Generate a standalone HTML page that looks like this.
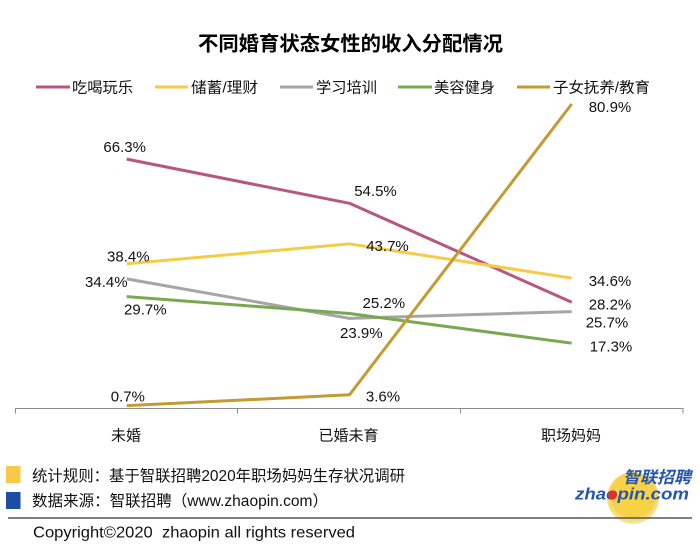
<!DOCTYPE html>
<html>
<head>
<meta charset="utf-8">
<style>
  html,body{margin:0;padding:0;background:#fff;}
  body{width:700px;height:551px;overflow:hidden;}
  svg{display:block;}
  .cjk{font-family:"Liberation Sans","Noto Sans CJK SC",sans-serif;}
  .num{font-family:"Liberation Sans",sans-serif;font-size:15px;fill:#111;}
</style>
</head>
<body>
<svg width="700" height="551" viewBox="0 0 700 551" xmlns="http://www.w3.org/2000/svg">
  <rect width="700" height="551" fill="#fff"/>

  <!-- Title -->
  <text class="cjk" x="198" y="50.3" font-size="20" font-weight="bold" fill="#000" textLength="305" lengthAdjust="spacingAndGlyphs">不同婚育状态女性的收入分配情况</text>

  <!-- Legend -->
  <g stroke-width="3" stroke-linecap="butt">
    <line x1="36" y1="87" x2="70" y2="87" stroke="#b7577f"/>
    <line x1="155" y1="87" x2="188" y2="87" stroke="#f4cc46"/>
    <line x1="280" y1="87" x2="313" y2="87" stroke="#a6a6a6"/>
    <line x1="398" y1="87" x2="432" y2="87" stroke="#78a950"/>
    <line x1="517" y1="87" x2="550" y2="87" stroke="#c49a32"/>
  </g>
  <g class="cjk" font-size="15" fill="#111">
    <text x="72" y="92.4" textLength="61" lengthAdjust="spacingAndGlyphs">吃喝玩乐</text>
    <text x="191" y="92.4" textLength="67" lengthAdjust="spacingAndGlyphs">储蓄/理财</text>
    <text x="316" y="92.4" textLength="61" lengthAdjust="spacingAndGlyphs">学习培训</text>
    <text x="434" y="92.4" textLength="61" lengthAdjust="spacingAndGlyphs">美容健身</text>
    <text x="553" y="92.4" textLength="97" lengthAdjust="spacingAndGlyphs">子女抚养/教育</text>
  </g>

  <!-- Axis -->
  <g stroke="#8c8c8c" stroke-width="1">
    <line x1="15" y1="408.5" x2="683.5" y2="408.5"/>
    <line x1="15.5" y1="408.5" x2="15.5" y2="413.5"/>
    <line x1="237.5" y1="408.5" x2="237.5" y2="413.5"/>
    <line x1="460.5" y1="408.5" x2="460.5" y2="413.5"/>
    <line x1="683" y1="408.5" x2="683" y2="413.5"/>
  </g>
  <g class="cjk" font-size="15" fill="#111" text-anchor="middle">
    <text x="126" y="440.7">未婚</text>
    <text x="348.5" y="440.7">已婚未育</text>
    <text x="571" y="440.7">职场妈妈</text>
  </g>

  <!-- Series -->
  <g fill="none" stroke-width="3" stroke-linejoin="round">
    <polyline points="126.7,159.1 349.5,203.3 571.7,302.2" stroke="#b7577f"/>
    <polyline points="126.7,263.8 349.5,243.9 571.7,278.1" stroke="#f4cc46"/>
    <polyline points="126.7,278.9 349.5,318.4 571.7,311.6" stroke="#a6a6a6"/>
    <polyline points="126.7,296.6 349.5,313.5 571.7,343.2" stroke="#78a950"/>
    <polyline points="126.7,405.7 349.5,394.8 571.7,104" stroke="#c49a32"/>
  </g>

  <!-- Data labels -->
  <g class="num" text-anchor="middle">
    <text x="124.7" y="152">66.3%</text>
    <text x="375.5" y="196">54.5%</text>
    <text x="128.3" y="261.3">38.4%</text>
    <text x="387.5" y="251">43.7%</text>
    <text x="106.3" y="287">34.4%</text>
    <text x="145.3" y="314.6">29.7%</text>
    <text x="383.8" y="308">25.2%</text>
    <text x="361.3" y="337.8">23.9%</text>
    <text x="127.8" y="401.3">0.7%</text>
    <text x="383" y="401.3">3.6%</text>
    <text x="610" y="112">80.9%</text>
    <text x="610" y="286">34.6%</text>
    <text x="610" y="309.3">28.2%</text>
    <text x="607" y="327.6">25.7%</text>
    <text x="611" y="351.3">17.3%</text>
  </g>

  <!-- Footer notes -->
  <rect x="6" y="466" width="14.5" height="17" fill="#f7c948"/>
  <rect x="6" y="492" width="14.5" height="17" fill="#1d4ea3"/>
  <g class="cjk" font-size="15.5" fill="#111">
    <text x="32" y="481" textLength="373" lengthAdjust="spacingAndGlyphs">统计规则：基于智联招聘2020年职场妈妈生存状况调研</text>
    <text x="32" y="506" textLength="296" lengthAdjust="spacingAndGlyphs">数据来源：智联招聘（www.zhaopin.com）</text>
  </g>

  <!-- Logo -->
  <defs>
    <radialGradient id="yg" cx="50%" cy="45%" r="55%">
      <stop offset="0%" stop-color="#fbd53a"/>
      <stop offset="75%" stop-color="#f7d04a"/>
      <stop offset="100%" stop-color="#fbe9a6"/>
    </radialGradient>
  </defs>
  <circle cx="633" cy="498" r="26" fill="url(#yg)"/>
  <text class="cjk" x="623" y="483" font-size="16.5" font-weight="bold" font-style="italic" fill="#2456b0" textLength="68" lengthAdjust="spacingAndGlyphs">智联招聘</text>
  <text x="575" y="499.5" font-family="Liberation Sans, sans-serif" font-size="16.5" font-weight="bold" font-style="italic" fill="#2456b0" textLength="114" lengthAdjust="spacingAndGlyphs">zhaopin.com</text>
  <circle cx="612.5" cy="495" r="4.6" fill="#d9342b"/>

  <!-- Rule -->
  <line x1="8" y1="518" x2="692" y2="518" stroke="#555" stroke-width="1.6"/>

  <!-- Copyright -->
  <text x="33" y="537.3" xml:space="preserve" font-family="Liberation Sans, sans-serif" font-size="16" fill="#111" textLength="322" lengthAdjust="spacingAndGlyphs">Copyright©2020  zhaopin all rights reserved</text>
</svg>
</body>
</html>
